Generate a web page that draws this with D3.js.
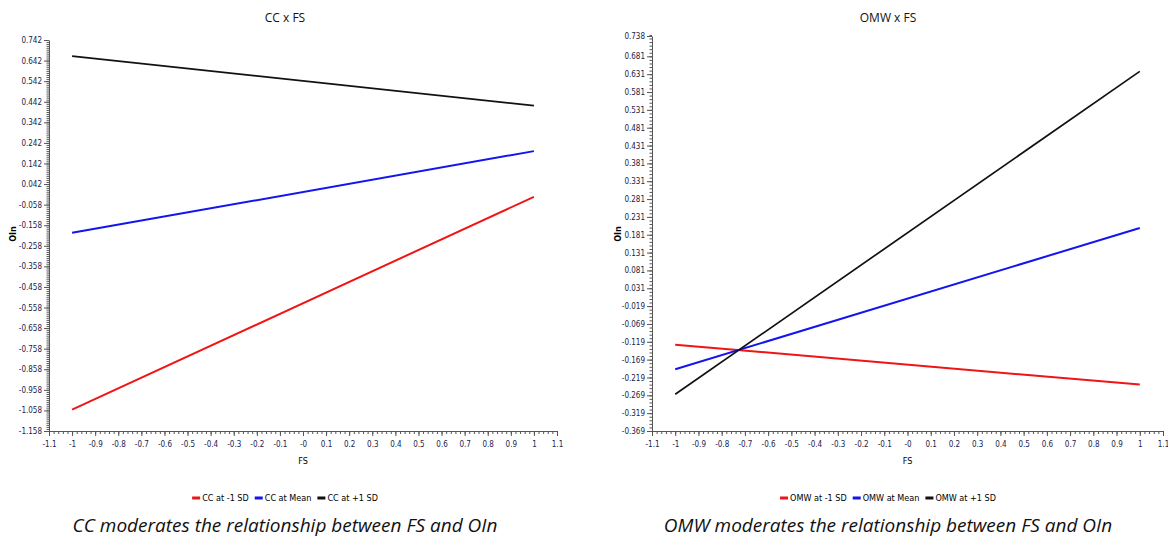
<!DOCTYPE html>
<html>
<head>
<meta charset="utf-8">
<script src="https://cdn.jsdelivr.net/npm/d3@7"></script>
<style>
  body { margin: 0; background: #fff; }
  svg text { font-family: "Liberation Sans Narrow", "DejaVu Sans Condensed", sans-serif; }
  .tick text { fill: #22224a; font-size: 8px; }
  .axis path, .axis line { stroke: #555; }
  .title { font-family: "Open Sans", sans-serif !important; font-size: 12px; fill: #111; }
  .caption { font-family: "Open Sans", sans-serif !important; font-style: italic; font-size: 19px; fill: #111; }
</style>
</head>
<body>
<svg id="chart" width="1168" height="542"></svg>
<script>
// data
var fsValues = [-1, 1];
var ccLabels = ["CC at -1 SD", "CC at Mean", "CC at +1 SD"];
var ccLow = [-1.054, -0.020];
var ccMean = [-0.195, 0.202];
var ccHigh = [0.664, 0.423];

var omwLabels = ["OMW at -1 SD", "OMW at Mean", "OMW at +1 SD"];
var omwLow = [-0.127, -0.239];
var omwMean = [-0.196, 0.200];
var omwHigh = [-0.266, 0.639];

var seriesColors = ["#f01414", "#1414ee", "#111111"];

// tick labels
var xTickValues = [-1.1, -1, -0.9, -0.8, -0.7, -0.6, -0.5, -0.4, -0.3, -0.2, -0.1, 0, 0.1, 0.2, 0.3, 0.4, 0.5, 0.6, 0.7, 0.8, 0.9, 1, 1.1];
var xTickLabels = ["-1.1", "-1", "-0.9", "-0.8", "-0.7", "-0.6", "-0.5", "-0.4", "-0.3", "-0.2", "-0.1", "-0", "0.1", "0.2", "0.3", "0.4", "0.5", "0.6", "0.7", "0.8", "0.9", "1", "1.1"];
var ccYTicks = [0.742, 0.642, 0.542, 0.442, 0.342, 0.242, 0.142, 0.042, -0.058, -0.158, -0.258, -0.358, -0.458, -0.558, -0.658, -0.758, -0.858, -0.958, -1.058, -1.158];
var omwYTicks = [0.738, 0.681, 0.631, 0.581, 0.531, 0.481, 0.431, 0.381, 0.331, 0.281, 0.231, 0.181, 0.131, 0.081, 0.031, -0.019, -0.069, -0.119, -0.169, -0.219, -0.269, -0.319, -0.369];

var svg = d3.select("#chart");

function drawPanel(opt) {
    var g = svg.append("g");
    var x = d3.scaleLinear().domain([-1.1, 1.1]).range([opt.left, opt.right]);
    var y = d3.scaleLinear().domain(opt.yDomain).range([opt.bottom, opt.top]);

    // minor ticks
    var xMinor = d3.range(-55, 56).map(k => k * 0.02);
    g.append("g")
        .attr("class", "axis")
        .attr("transform", "translate(0," + opt.bottom + ")")
        .call(d3.axisBottom(x).tickValues(xMinor).tickSize(3).tickFormat(""))
        .select(".domain").remove();
    var nMinor = Math.round((opt.yDomain[1] - opt.yDomain[0]) / 0.01);
    var yMinor = d3.range(0, nMinor + 1).map(k => opt.yDomain[0] + k * 0.01);
    g.append("g")
        .attr("class", "axis")
        .attr("transform", "translate(" + opt.left + ",0)")
        .call(d3.axisLeft(y).tickValues(yMinor).tickSize(2.5).tickFormat(""))
        .select(".domain").remove();

    // major axes
    g.append("g")
        .attr("class", "axis")
        .attr("transform", "translate(0," + opt.bottom + ")")
        .call(d3.axisBottom(x).tickValues(xTickValues).tickSize(5).tickSizeOuter(0).tickPadding(5)
            .tickFormat((d, i) => xTickLabels[i]));
    g.append("g")
        .attr("class", "axis")
        .attr("transform", "translate(" + opt.left + ",0)")
        .call(d3.axisLeft(y).tickValues(opt.yTicks).tickSize(5).tickSizeOuter(0).tickPadding(2)
            .tickFormat(d => d.toFixed(3)));

    // lines
    var line = d3.line().x((d, i) => x(fsValues[i])).y(d => y(d));
    opt.series.forEach(function(s, i) {
        g.append("path")
            .datum(s)
            .attr("d", line)
            .attr("fill", "none")
            .attr("stroke", seriesColors[i])
            .attr("stroke-width", i == 2 ? 1.7 : 2);
    });

    g.append("text")
        .attr("class", "title")
        .attr("x", opt.titleX)
        .attr("y", 22)
        .attr("text-anchor", "middle")
        .text(opt.title);

    g.append("text")
        .attr("transform", "translate(" + opt.yLabelX + "," + 234 + ") rotate(-90)")
        .attr("text-anchor", "middle")
        .attr("dy", "0.35em")
        .style("font-size", "9px")
        .style("font-weight", "bold")
        .text("OIn");

    g.append("text")
        .attr("x", (opt.left + opt.right) / 2)
        .attr("y", 464)
        .attr("text-anchor", "middle")
        .style("font-size", "9px")
        .text("FS");

    // legend
    var leg = g.append("g");
    var cx = 0;
    opt.labels.forEach(function(lbl, i) {
        leg.append("rect")
            .attr("x", cx).attr("y", -1.5)
            .attr("width", 8).attr("height", 3)
            .attr("fill", seriesColors[i]);
        var t = leg.append("text")
            .attr("x", cx + 10)
            .attr("y", 0)
            .attr("dy", "0.35em")
            .style("font-size", "9px")
            .text(lbl);
        cx += 10 + t.node().getComputedTextLength() + 6;
    });
    leg.attr("transform", "translate(" + (opt.titleX - (cx - 6) / 2) + ",498)");

    g.append("text")
        .attr("class", "caption")
        .attr("x", opt.titleX)
        .attr("y", 532)
        .attr("text-anchor", "middle")
        .text(opt.caption);
}

drawPanel({
    left: 49, right: 557, top: 40, bottom: 431,
    yDomain: [-1.158, 0.742], yTicks: ccYTicks,
    series: [ccLow, ccMean, ccHigh], labels: ccLabels,
    title: "CC x FS", titleX: 285, yLabelX: 13,
    caption: "CC moderates the relationship between FS and OIn"
});

drawPanel({
    left: 652, right: 1163, top: 36, bottom: 431,
    yDomain: [-0.369, 0.738], yTicks: omwYTicks,
    series: [omwLow, omwMean, omwHigh], labels: omwLabels,
    title: "OMW x FS", titleX: 888, yLabelX: 618,
    caption: "OMW moderates the relationship between FS and OIn"
});
</script>
</body>
</html>
